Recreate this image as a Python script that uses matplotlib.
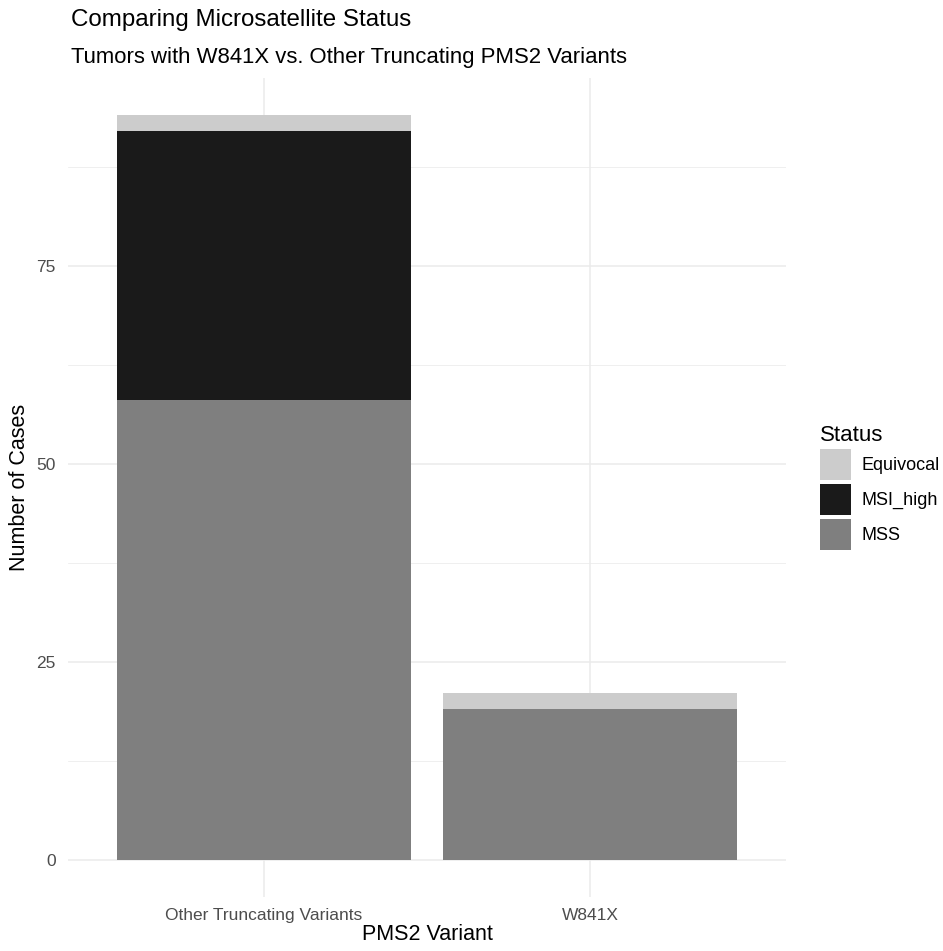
import numpy as np
import matplotlib
matplotlib.use('Agg')
import matplotlib.pyplot as plt
from matplotlib.patches import Patch

plt.rcParams['font.family'] = ['Liberation Sans', 'DejaVu Sans']

# Data
variants = ['Other Truncating Variants', 'W841X']
mss = [58, 19]
msi_high = [34, 0]
equivocal = [2, 2]

status_labels = ['Equivocal', 'MSI_high', 'MSS']
status_colors = {'Equivocal': '#cccccc', 'MSI_high': '#1a1a1a', 'MSS': '#7f7f7f'}

fig = plt.figure(figsize=(9.43, 9.51), dpi=100)
ax = fig.add_axes([0.0725, 0.0568, 0.7608, 0.861])

x = np.arange(len(variants))
mss = np.array(mss)
msi_high = np.array(msi_high)
equivocal = np.array(equivocal)

# grid first so bars sit on top
for y in [12.5, 37.5, 62.5, 87.5]:
    ax.axhline(y, color='#ebebeb', linewidth=0.55, zorder=0)
for y in [0, 25, 50, 75]:
    ax.axhline(y, color='#ebebeb', linewidth=1.1, zorder=0)
for xi in x:
    ax.axvline(xi, color='#ebebeb', linewidth=1.1, zorder=0)

ax.bar(x, mss, width=0.9, color=status_colors['MSS'], zorder=2)
ax.bar(x, msi_high, width=0.9, bottom=mss, color=status_colors['MSI_high'], zorder=2)
ax.bar(x, equivocal, width=0.9, bottom=mss + msi_high, color=status_colors['Equivocal'], zorder=2)

total_max = (mss + msi_high + equivocal).max()
ax.set_xlim(-0.6, 1.6)
ax.set_ylim(-0.05 * total_max, 1.05 * total_max)

ax.set_xticks(x)
ax.set_xticklabels(variants)
ax.set_yticks([0, 25, 50, 75])
ax.tick_params(axis='both', length=0, labelsize=12.5, labelcolor='#4d4d4d')
ax.tick_params(axis='x', pad=8)
ax.tick_params(axis='y', pad=9)
for s in ax.spines.values():
    s.set_visible(False)

ax.set_xlabel('PMS2 Variant', fontsize=15.5, labelpad=1)
ax.set_ylabel('Number of Cases', fontsize=15.5, labelpad=5)

fig.text(0.0755, 0.979, 'Comparing Microsatellite Status', fontsize=17.4, va='center', ha='left')
fig.text(0.0755, 0.94, 'Tumors with W841X vs. Other Truncating PMS2 Variants', fontsize=15.9, va='center', ha='left')

handles = [Patch(facecolor=status_colors[s], edgecolor='none') for s in status_labels]
leg = fig.legend(handles, status_labels, title='Status', loc='upper left',
                 bbox_to_anchor=(0.862, 0.561), frameon=False, fontsize=13,
                 title_fontsize=16, handlelength=1.72, handleheight=2.27,
                 handletextpad=0.6, labelspacing=0.2, borderaxespad=0)
leg._legend_box.align = 'left'

fig.savefig('out.png', dpi=100)
